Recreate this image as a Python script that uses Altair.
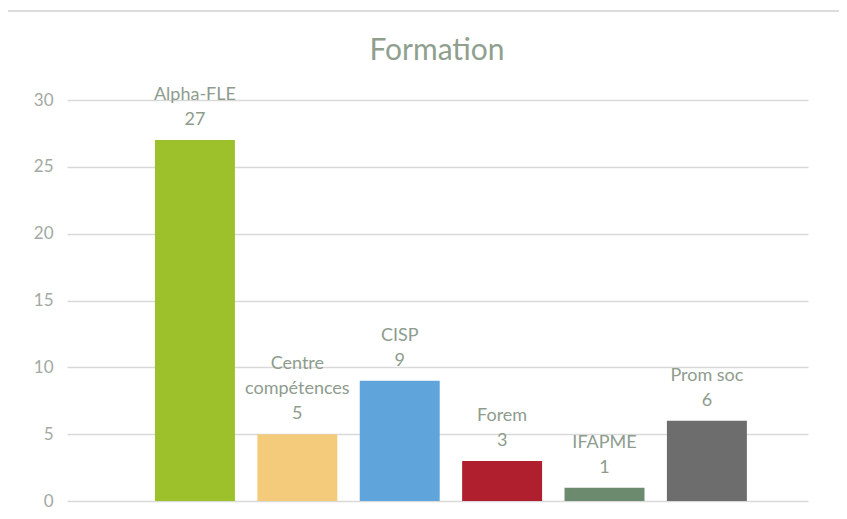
import altair as alt
import pandas as pd

categories = ["Alpha-FLE", "Centre compétences", "CISP", "Forem", "IFAPME", "Prom soc"]
label_lines = ["Alpha-FLE", "Centre\ncompétences", "CISP", "Forem", "IFAPME", "Prom soc"]
values = [27, 5, 9, 3, 1, 6]
colors = ["#9DC12A", "#F4CB7B", "#5FA4DA", "#B01F2E", "#6C8A6E", "#6D6D6D"]

df = pd.DataFrame({
    "cat": categories,
    "val": values,
    "label": [f"{l}\n{v}" for l, v in zip(label_lines, values)],
    "nlines": [l.count("\n") + 2 for l in label_lines],
})

x = alt.X("cat:N", sort=categories, title=None, axis=None,
          scale=alt.Scale(paddingInner=0.219, paddingOuter=0.728, align=0.59))
y = alt.Y("val:Q", title=None,
          scale=alt.Scale(domain=[0, 30], nice=False),
          axis=alt.Axis(values=[0, 5, 10, 15, 20, 25, 30], grid=True, gridColor="#d9d9d9",
                        gridWidth=1.5, domain=False, ticks=False, labelPadding=14,
                        labelFont="Lato", labelFontSize=17, labelColor="#a3a9a3"))

base = alt.Chart(df)

bars = base.mark_bar().encode(
    x=x, y=y,
    color=alt.Color("cat:N", scale=alt.Scale(domain=categories, range=colors), legend=None),
)

LH = 25
label_layers = []
for n in sorted(set(df["nlines"])):
    label_layers.append(
        base.transform_filter(alt.datum.nlines == n).mark_text(
            lineBreak="\n", baseline="bottom", dy=-11 - LH * (n - 1), font="Lato",
            fontSize=18, color="#8E9C8E", lineHeight=LH,
        ).encode(x=x, y=alt.Y("val:Q"), text="label:N")
    )

frame = base.mark_rect(fill=None, stroke="#dcdcdc", strokeWidth=1.5).encode(
    x=alt.value(-61), x2=alt.value(774), y=alt.value(-89), y2=alt.value(530)
)

title = alt.Chart(pd.DataFrame({"t": ["Formation"]})).mark_text(
    font="Lato", fontSize=30, color="#8FA08F", baseline="middle", align="center"
).encode(x=alt.value(370), y=alt.value(-49), text="t:N")

chart = alt.layer(frame, bars, *label_layers, title).properties(
    width=741, height=401,
    autosize=alt.AutoSizeParams(type="none"),
    padding={"left": 59, "top": 92, "right": 31, "bottom": 10},
).configure_view(stroke=None)

chart.save("out.html", embed_options={"renderer": "svg", "actions": False})
